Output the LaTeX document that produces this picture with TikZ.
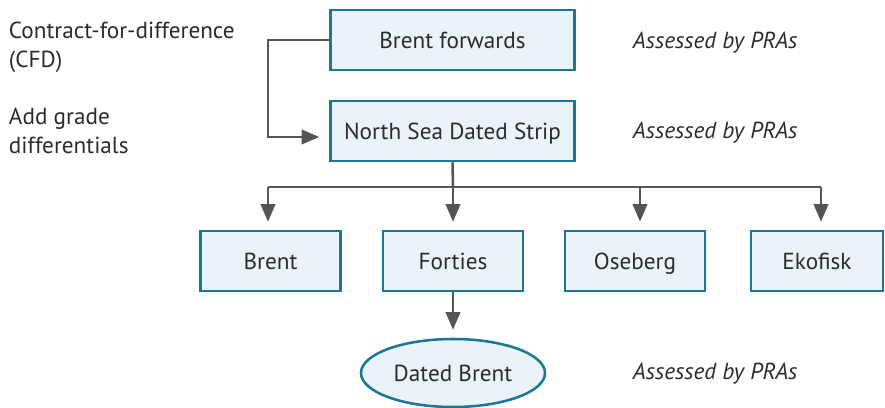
\documentclass[tikz,border=0pt]{standalone}
\usepackage{fontspec}
\setmainfont{PT Sans}
\usetikzlibrary{arrows.meta,shapes.geometric}
\definecolor{boxline}{HTML}{1B7895}
\definecolor{boxfill}{HTML}{EAF3F7}
\definecolor{arrowgray}{HTML}{555555}
\definecolor{textgray}{HTML}{2B2B2B}
\tikzset{
	gradebox/.style={draw=boxline, fill=boxfill, line width=1.8pt, minimum height=1.5cm, text height=11.5pt, text depth=0pt, text=textgray},
	datedoval/.style={ellipse, draw=boxline, fill=boxfill, line width=1.8pt, minimum width=4.6cm, minimum height=1.7cm, inner sep=0pt, text height=11.5pt, text depth=0pt, text=textgray},
	flowarrow/.style={draw=arrowgray, line width=1.8pt, -{Triangle[length=0.44cm,width=0.36cm]}},
	flowline/.style={draw=arrowgray, line width=1.8pt},
	sidenote/.style={text=textgray, align=left, anchor=west},
	prasnote/.style={text=textgray, anchor=west, font=\fontsize{16.5}{20.6}\selectfont\itshape}
}
\begin{document}
\begin{tikzpicture}[x=0.025cm, y=-0.025cm, font=\fontsize{16.5}{20.6}\selectfont]
			%%%%% START %%%%%
			
			\useasboundingbox (0, 0) rectangle (885, 407);
			
			\node[gradebox, minimum width=6.1cm] (forwards) at (452.5, 40) {Brent forwards};
			\node[gradebox, minimum width=6.1cm] (strip) at (452.5, 131) {North Sea Dated Strip};
			
			\node[gradebox, minimum width=3.5cm] (brent) at (270.5, 261) {Brent};
			\node[gradebox, minimum width=3.5cm] (forties) at (453, 261) {Forties};
			\node[gradebox, minimum width=3.5cm] (oseberg) at (635, 261) {Oseberg};
			\node[gradebox, minimum width=3.3cm] (ekofisk) at (817, 261) {Ekofisk};
			
			\node[datedoval] (dated) at (453, 373) {Dated Brent};
			
			\node[sidenote] (cfd) at (4, 47) {Contract-for-difference\\(CFD)};
			\node[sidenote] (grade) at (4, 131) {Add grade\\differentials};
			
			\node[prasnote] (pras1) at (628, 43) {Assessed by PRAs};
			\node[prasnote] (pras2) at (628, 133) {Assessed by PRAs};
			\node[prasnote] (pras3) at (628, 374) {Assessed by PRAs};
			
			\coordinate (split) at (453, 187);
			\coordinate (dropbrent) at (268, 187);
			\coordinate (droposeberg) at (640, 187);
			\coordinate (dropekofisk) at (821, 187);
			
			\draw[flowarrow] (forwards.west) -- ++(-61, 0) |- ([xshift=-0.25cm, yshift=-0.15cm]strip.west);
			
			\draw[flowline] (strip.south) -- (split);
			\draw[flowline] (dropbrent) -- (dropekofisk);
			\draw[flowarrow] (split) -- ([yshift=0.2cm]forties.north);
			\draw[flowarrow] (dropbrent) -- ([yshift=0.2cm]dropbrent |- brent.north);
			\draw[flowarrow] (droposeberg) -- ([yshift=0.2cm]droposeberg |- oseberg.north);
			\draw[flowarrow] (dropekofisk) -- ([yshift=0.2cm]dropekofisk |- ekofisk.north);
			
			\draw[flowarrow] (forties.south) -- ([yshift=0.2cm]dated.north);
			
			%%%%% END %%%%%
		\end{tikzpicture}
\end{document}
